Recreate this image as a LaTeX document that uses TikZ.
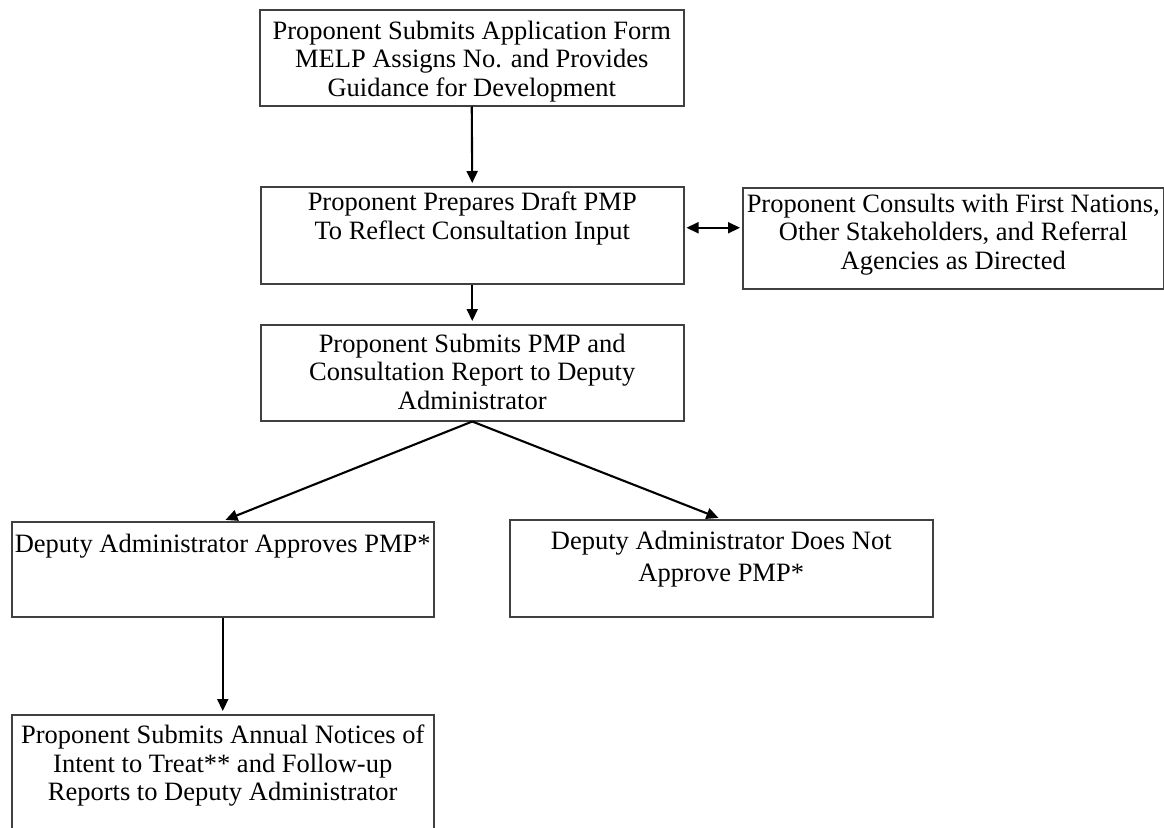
\documentclass[tikz,border=0pt]{standalone}
\usepackage{fontspec}
\setmainfont{Liberation Serif}
\usetikzlibrary{arrows.meta}
\begin{document}
\begin{tikzpicture}[x=1pt,y=-1pt,
  box/.style={draw=black!75, line width=1.5pt, anchor=north west, inner sep=0pt, fill=none},
  txt/.style={font=\fontsize{26.5}{28.3}\selectfont, align=center, inner sep=0pt, anchor=north},
  arr/.style={line width=2.1pt, -{Triangle[length=12pt,width=11pt]}, shorten >=3pt},
  darr/.style={line width=2.1pt, {Triangle[length=12pt,width=11pt]}-{Triangle[length=12pt,width=11pt]}, shorten >=2pt, shorten <=2pt}]
\clip (0,0) rectangle (1164,827);
\fill[white] (0,0) rectangle (1164,827);

% boxes
\node[box, minimum width=424pt, minimum height=96pt] (b1) at (259,9) {};
\node[box, minimum width=423pt, minimum height=97pt] (b2) at (260,186) {};
\node[box, minimum width=421pt, minimum height=101pt] (b3) at (742,187) {};
\node[box, minimum width=423pt, minimum height=96pt] (b4) at (260,324) {};
\node[box, minimum width=422pt, minimum height=95pt] (b5) at (11,521) {};
\node[box, minimum width=423pt, minimum height=97pt] (b6) at (509,519) {};
\node[box, minimum width=422pt, minimum height=140pt] (b7) at (11,714) {};

% texts
\node[txt] (t1) at ([yshift=-12pt]b1.north) {Proponent Submits Application Form\\MELP Assigns No. and Provides\\Guidance for Development};
\node[txt] (t2) at ([yshift=-6pt]b2.north) {Proponent Prepares Draft PMP\\To Reflect Consultation Input};
\node[txt] (t3) at ([yshift=-7pt]b3.north) {Proponent Consults with First Nations,\\Other Stakeholders, and Referral\\Agencies as Directed};
\node[txt] (t4) at ([yshift=-10pt]b4.north) {Proponent Submits PMP and\\Consultation Report to Deputy\\Administrator};
\node[txt] (t5) at ([yshift=-13pt]b5.north) {Deputy Administrator Approves PMP*};
\node[txt] (t6) at ([yshift=-12pt]b6.north) {Deputy Administrator Does Not\\[4pt]Approve PMP*};
\node[txt] (t7) at ([yshift=-11pt]b7.north) {Proponent Submits Annual Notices of\\Intent to Treat** and Follow-up\\Reports to Deputy Administrator};

% connectors
\draw[arr] (b1.south) -- (b2.north);
\draw[arr] (b2.south) -- (b4.north);
\draw[darr] ([yshift=7.5pt]b2.east) -- ([yshift=7.5pt]b2.east -| b3.west);
\draw[arr] (b4.south) -- (b5.north);
\draw[arr] (b4.south) -- (b6.north);
\draw[arr] (b5.south) -- (b7.north);
\end{tikzpicture}
\end{document}
